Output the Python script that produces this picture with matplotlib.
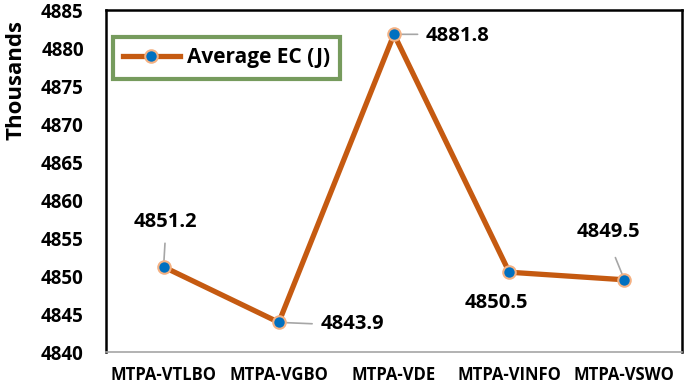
import matplotlib
matplotlib.use("Agg")
import matplotlib.pyplot as plt
from matplotlib.lines import Line2D

categories = ["MTPA-VTLBO", "MTPA-VGBO", "MTPA-VDE", "MTPA-VINFO", "MTPA-VSWO"]
values = [4851.2, 4843.9, 4881.8, 4850.5, 4849.5]
yticks = [4840, 4845, 4850, 4855, 4860, 4865, 4870, 4875, 4880, 4885]
series_name = "Average EC (J)"

plt.rcParams['font.family'] = ['Open Sans', 'DejaVu Sans']
plt.rcParams['font.weight'] = 'bold'

line_c = "#C55A11"
mk_c = "#0070C0"

fig = plt.figure(figsize=(6.85, 3.83), dpi=100)
ax = fig.add_axes([106/685, 1-352/383, (682-106)/685, (352-10)/383])

x = list(range(len(categories)))
ax.plot(x, values, color=line_c, lw=3.8, marker='o', markersize=9,
        markerfacecolor=mk_c, markeredgecolor="#F4B183", markeredgewidth=1.5,
        solid_capstyle='round', zorder=3)

ax.set_xlim(-0.5, len(categories) - 0.5)
ax.set_ylim(4840, 4885)
ax.set_yticks(yticks)
ax.set_yticklabels([str(v) for v in yticks], fontsize=13.5, fontweight='bold')
ax.set_xticks(x)
ax.set_xticklabels(categories, fontsize=12, fontweight='bold')
ax.tick_params(axis='both', length=0)
ax.tick_params(axis='x', pad=10)
ax.tick_params(axis='y', pad=16)
ax.set_ylabel("Thousands", fontsize=16, fontweight='bold')
ax.yaxis.set_label_coords(-0.138, 0.795)

for s in ['left', 'top', 'right']:
    ax.spines[s].set_color('black')
    ax.spines[s].set_linewidth(1.8)
ax.spines['bottom'].set_color('#A6A6A6')
ax.spines['bottom'].set_linewidth(1.2)

# data labels with leader lines (offsets in points)
label_specs = [
    (0, (1, 32), 'center', (1, 17)),
    (1, (30, -1), 'left', (24, -1)),
    (2, (23, -1.4), 'left', (17, 0)),
    (3, (-9, -22), 'center', None),
    (4, (-11.5, 34.5), 'center', (-6.5, 16)),
]
for i, off, ha, leader in label_specs:
    ax.annotate(f"{values[i]:.1f}", xy=(x[i], values[i]), xytext=off,
                textcoords='offset points', ha=ha, va='center',
                fontsize=14.5, fontweight='bold', color='black', zorder=5)
    if leader:
        ax.annotate("", xy=(x[i], values[i]), xytext=leader,
                    textcoords='offset points',
                    arrowprops=dict(arrowstyle='-', color='#A6A6A6', lw=1.2,
                                    shrinkA=0, shrinkB=4), zorder=2)

handle = Line2D([0], [0], color=line_c, lw=3.8, marker='o', markersize=9,
                markerfacecolor=mk_c, markeredgecolor="#F4B183", markeredgewidth=1.5)
leg = ax.legend([handle], [series_name], loc='upper left',
                bbox_to_anchor=(0.012, 0.921), prop={'weight': 'bold', 'size': 15},
                frameon=True, fancybox=False, handlelength=2.7,
                borderpad=0.5, handletextpad=0.35, borderaxespad=0)
leg.get_frame().set_edgecolor('#548235')
leg.get_frame().set_linewidth(3)

fig.savefig("out.png", dpi=100)
